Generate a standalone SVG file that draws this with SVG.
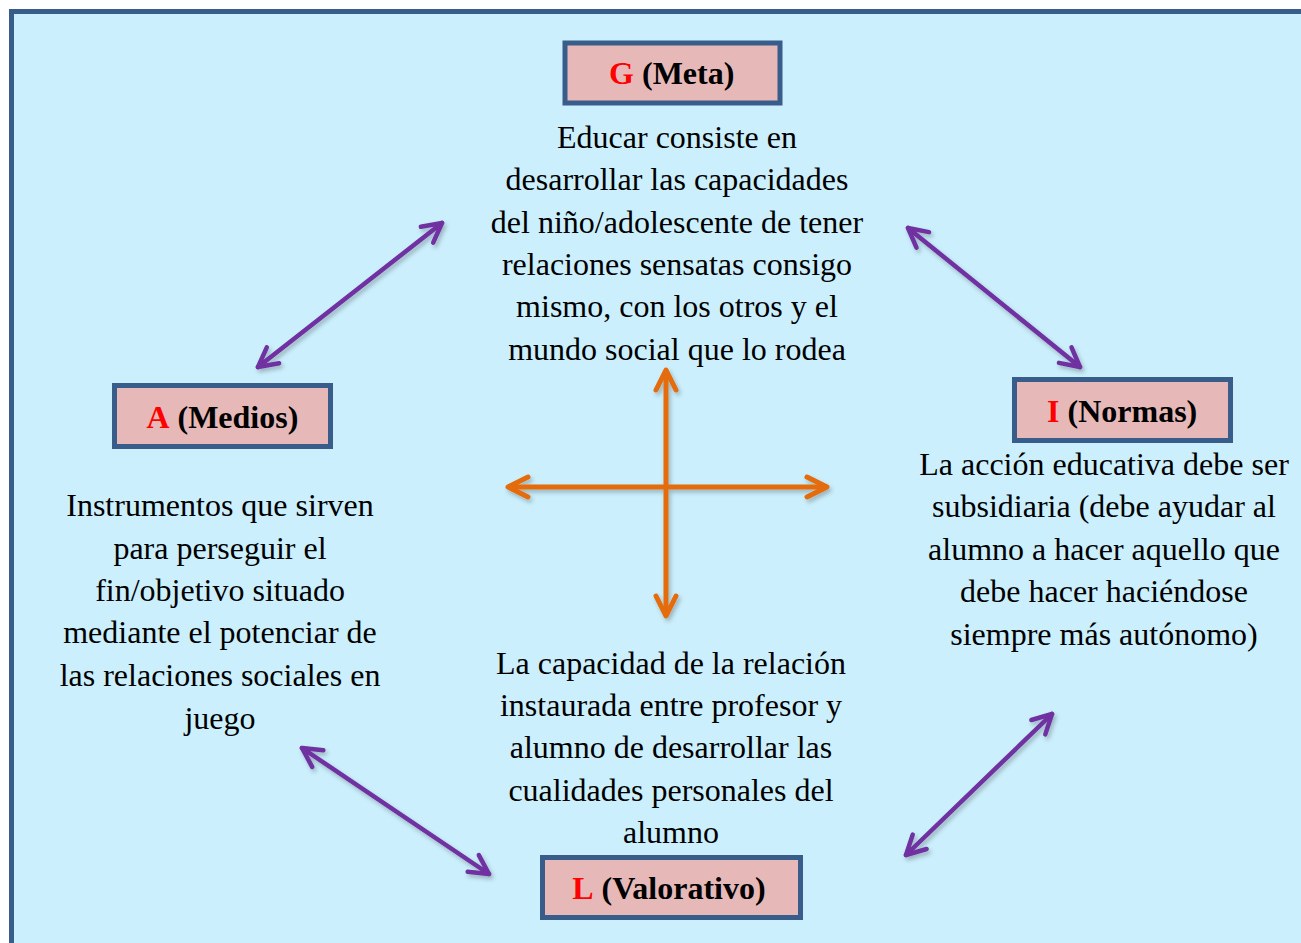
<svg xmlns="http://www.w3.org/2000/svg" width="1301" height="943" viewBox="0 0 1301 943">
<defs>
<filter id="sh" x="-20%" y="-20%" width="140%" height="140%">
<feDropShadow dx="2" dy="3" stdDeviation="2" flood-color="#000" flood-opacity="0.25"/>
</filter>
<marker id="mp" markerUnits="userSpaceOnUse" viewBox="-25 -14 30 28" refX="0" refY="0" markerWidth="30" markerHeight="28" orient="auto-start-reverse" overflow="visible">
<path d="M-19,-10 L0,0 L-19,10" fill="none" stroke="#7030a0" stroke-width="4.5" stroke-linecap="round" stroke-linejoin="round"/>
</marker>
<marker id="mo" markerUnits="userSpaceOnUse" viewBox="-25 -14 30 28" refX="0" refY="0" markerWidth="30" markerHeight="28" orient="auto-start-reverse" overflow="visible">
<path d="M-20,-10 L0,0 L-20,10" fill="none" stroke="#e46c0a" stroke-width="5" stroke-linecap="round" stroke-linejoin="round"/>
</marker>
</defs>
<rect x="0" y="0" width="1301" height="943" fill="#ffffff"/>
<rect id="frame" x="11.5" y="11.5" width="1300" height="940" fill="#cbeffd" stroke="#385d8a" stroke-width="5"/>

<g id="connectors" fill="none" stroke-linecap="round" filter="url(#sh)">
<line x1="258" y1="367" x2="442" y2="223" stroke="#7030a0" stroke-width="4.5" marker-start="url(#mp)" marker-end="url(#mp)"/>
<line x1="908" y1="228" x2="1080" y2="367" stroke="#7030a0" stroke-width="4.5" marker-start="url(#mp)" marker-end="url(#mp)"/>
<line x1="302" y1="748" x2="489" y2="874" stroke="#7030a0" stroke-width="4.5" marker-start="url(#mp)" marker-end="url(#mp)"/>
<line x1="906" y1="855" x2="1052" y2="714" stroke="#7030a0" stroke-width="4.5" marker-start="url(#mp)" marker-end="url(#mp)"/>
<line x1="508" y1="487" x2="827" y2="487" stroke="#e46c0a" stroke-width="5" stroke-linecap="butt" marker-start="url(#mo)" marker-end="url(#mo)"/>
<line x1="666" y1="370" x2="666" y2="616" stroke="#e46c0a" stroke-width="5" stroke-linecap="butt" marker-start="url(#mo)" marker-end="url(#mo)"/>
</g>

<g id="node-G">
<rect x="565" y="43" width="215" height="60" fill="#e6b8b7" stroke="#385d8a" stroke-width="5"/>
<text x="634" y="84" font-family="Liberation Serif" font-size="32" font-weight="bold" text-anchor="end" fill="#ff0000">G</text>
<text x="642" y="84" font-family="Liberation Serif" font-size="32" font-weight="bold" fill="#000000">(Meta)</text>
<text x="677" y="148" font-family="Liberation Serif" font-size="32" text-anchor="middle" fill="#000000">Educar consiste en</text>
<text x="677" y="190" font-family="Liberation Serif" font-size="32" text-anchor="middle" fill="#000000">desarrollar las capacidades</text>
<text x="677" y="233" font-family="Liberation Serif" font-size="32" text-anchor="middle" fill="#000000">del niño/adolescente de tener</text>
<text x="677" y="275" font-family="Liberation Serif" font-size="32" text-anchor="middle" fill="#000000">relaciones sensatas consigo</text>
<text x="677" y="317" font-family="Liberation Serif" font-size="32" text-anchor="middle" fill="#000000">mismo, con los otros y el</text>
<text x="677" y="360" font-family="Liberation Serif" font-size="32" text-anchor="middle" fill="#000000">mundo social que lo rodea</text>
</g>

<g id="node-A">
<rect x="114.5" y="385.5" width="216" height="61" fill="#e6b8b7" stroke="#385d8a" stroke-width="5"/>
<text x="169.5" y="428" font-family="Liberation Serif" font-size="32" font-weight="bold" text-anchor="end" fill="#ff0000">A</text>
<text x="177.5" y="428" font-family="Liberation Serif" font-size="32" font-weight="bold" fill="#000000">(Medios)</text>
<text x="220" y="516" font-family="Liberation Serif" font-size="32" text-anchor="middle" fill="#000000">Instrumentos que sirven</text>
<text x="220" y="559" font-family="Liberation Serif" font-size="32" text-anchor="middle" fill="#000000">para perseguir el</text>
<text x="220" y="601" font-family="Liberation Serif" font-size="32" text-anchor="middle" fill="#000000">fin/objetivo situado</text>
<text x="220" y="643" font-family="Liberation Serif" font-size="32" text-anchor="middle" fill="#000000">mediante el potenciar de</text>
<text x="220" y="686" font-family="Liberation Serif" font-size="32" text-anchor="middle" fill="#000000">las relaciones sociales en</text>
<text x="220" y="729" font-family="Liberation Serif" font-size="32" text-anchor="middle" fill="#000000">juego</text>
</g>

<g id="node-I">
<rect x="1014.5" y="379.5" width="216" height="61" fill="#e6b8b7" stroke="#385d8a" stroke-width="5"/>
<text x="1059.5" y="422" font-family="Liberation Serif" font-size="32" font-weight="bold" text-anchor="end" fill="#ff0000">I</text>
<text x="1067.5" y="422" font-family="Liberation Serif" font-size="32" font-weight="bold" fill="#000000">(Normas)</text>
<text x="1104" y="475" font-family="Liberation Serif" font-size="32" text-anchor="middle" fill="#000000">La acción educativa debe ser</text>
<text x="1104" y="517" font-family="Liberation Serif" font-size="32" text-anchor="middle" fill="#000000">subsidiaria (debe ayudar al</text>
<text x="1104" y="560" font-family="Liberation Serif" font-size="32" text-anchor="middle" fill="#000000">alumno a hacer aquello que</text>
<text x="1104" y="602" font-family="Liberation Serif" font-size="32" text-anchor="middle" fill="#000000">debe hacer haciéndose</text>
<text x="1104" y="645" font-family="Liberation Serif" font-size="32" text-anchor="middle" fill="#000000">siempre más autónomo)</text>
</g>

<g id="node-L">
<rect x="542.5" y="857.5" width="258" height="60" fill="#e6b8b7" stroke="#385d8a" stroke-width="5"/>
<text x="593.5" y="899" font-family="Liberation Serif" font-size="32" font-weight="bold" text-anchor="end" fill="#ff0000">L</text>
<text x="601.5" y="899" font-family="Liberation Serif" font-size="32" font-weight="bold" fill="#000000">(Valorativo)</text>
<text x="671" y="674" font-family="Liberation Serif" font-size="32" text-anchor="middle" fill="#000000">La capacidad de la relación</text>
<text x="671" y="716" font-family="Liberation Serif" font-size="32" text-anchor="middle" fill="#000000">instaurada entre profesor y</text>
<text x="671" y="758" font-family="Liberation Serif" font-size="32" text-anchor="middle" fill="#000000">alumno de desarrollar las</text>
<text x="671" y="801" font-family="Liberation Serif" font-size="32" text-anchor="middle" fill="#000000">cualidades personales del</text>
<text x="671" y="843" font-family="Liberation Serif" font-size="32" text-anchor="middle" fill="#000000">alumno</text>
</g>
</svg>
